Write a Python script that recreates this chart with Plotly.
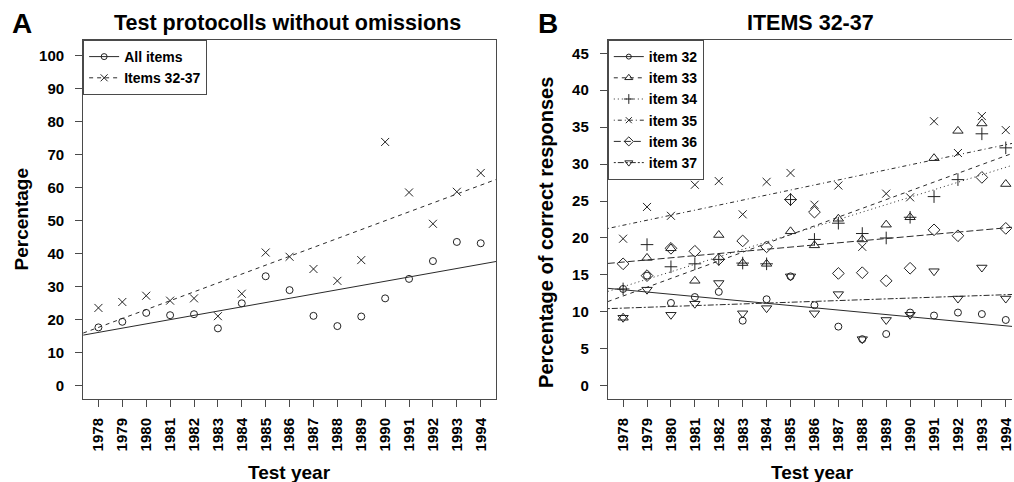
import numpy as np
import plotly.graph_objects as go

# ---------------- data ----------------
years = list(range(1978, 1995))
year_labels = [str(y) for y in years]

# Panel A: percentage of test protocols without omissions
all_items = [17.7, 19.4, 22.1, 21.4, 21.7, 17.4, 25.0, 33.2, 29.0, 21.2, 18.1, 21.0, 26.5, 32.4, 37.8, 43.6, 43.2]
items_32_37 = [23.6, 25.4, 27.3, 25.8, 26.5, 21.1, 27.9, 40.4, 39.1, 35.4, 31.8, 38.1, 73.9, 58.6, 49.1, 58.8, 64.5]

# Panel B: percentage of correct responses, items 32-37
item32 = [13.1, 14.9, 11.2, 12.0, 12.7, 8.8, 11.7, 14.8, 10.9, 8.0, 6.3, 7.0, 9.9, 9.5, 9.9, 9.7, 8.9]
item33 = [9.2, 17.3, 18.6, 14.2, 20.4, 16.6, 16.5, 20.9, 19.0, 22.6, 19.8, 21.8, 22.8, 30.8, 34.5, 35.5, 27.3]
item34 = [13.1, 19.1, 16.1, 16.5, 17.1, 16.6, 16.5, 25.2, 19.8, 22.0, 20.6, 20.0, 22.8, 25.6, 27.9, 34.1, 32.2]
item35 = [19.9, 24.2, 23.0, 27.2, 27.7, 23.2, 27.6, 28.8, 24.5, 27.1, 18.8, 26.0, 25.5, 35.8, 31.5, 36.5, 34.6]
item36 = [16.5, 14.9, 18.6, 18.2, 17.1, 19.6, 18.8, 25.2, 23.5, 15.2, 15.3, 14.2, 15.9, 21.1, 20.3, 28.2, 21.3]
item37 = [9.2, 13.0, 9.6, 11.1, 13.9, 9.8, 10.5, 14.8, 9.8, 12.4, 6.3, 8.9, 9.6, 15.5, 11.8, 16.0, 11.8]

a_ticks = list(range(0, 101, 10))
b_ticks = list(range(0, 46, 5))

# ---------------- styling ----------------
FONT = "Liberation Sans, Arial, sans-serif"
LINE_C = "#2a2a2a"
MK_C = "#222222"
AX_C = "#4a4a4a"
XR_A = [1977.36, 1994.64]
XR_B = [1977.36, 1994.26]
YR_A = [-4.0, 104.8]
YR_B = [-1.8, 46.8]
FIT_X = [1977.36, 1994.64]   # regression lines run across the full plot width


def fit_line(x, y):
    k, b = np.polyfit(np.array(x, float), np.array(y, float), 1)
    xs = np.array(FIT_X)
    return xs, k * xs + b


fig = go.Figure()

series_a = [
    ("All items", all_items, "circle-open", 7, "solid"),
    ("Items 32-37", items_32_37, "x-thin-open", 8, "4px,4px"),
]
for name, vals, sym, sz, dash in series_a:
    fig.add_trace(go.Scatter(x=years, y=vals, mode="markers", xaxis="x", yaxis="y",
                             marker=dict(symbol=sym, size=sz, color=MK_C,
                                         line=dict(color=MK_C, width=1)),
                             showlegend=False, hoverinfo="skip"))
    xs, ys = fit_line(years, vals)
    fig.add_trace(go.Scatter(x=xs, y=ys, mode="lines", xaxis="x", yaxis="y",
                             line=dict(color=LINE_C, width=1, dash=dash),
                             showlegend=False, hoverinfo="skip"))
    fig.add_trace(go.Scatter(x=[None], y=[None], mode="lines+markers", name=name,
                             xaxis="x", yaxis="y", legend="legend",
                             marker=dict(symbol=sym, size=sz - 1, color=MK_C,
                                         line=dict(color=MK_C, width=1)),
                             line=dict(color=LINE_C, width=1, dash=dash)))

series_b = [
    ("item 32", item32, "circle-open", 7, "solid"),
    ("item 33", item33, "triangle-up-open", 9, "4px,4px"),
    ("item 34", item34, "cross-thin-open", 9, "1px,3px"),
    ("item 35", item35, "x-thin-open", 8, "1px,3px,4px,3px"),
    ("item 36", item36, "diamond-open", 9, "7px,3px"),
    ("item 37", item37, "triangle-down-open", 9, "2px,2px,6px,2px"),
]
for name, vals, sym, sz, dash in series_b:
    fig.add_trace(go.Scatter(x=years, y=vals, mode="markers", xaxis="x2", yaxis="y2",
                             marker=dict(symbol=sym, size=sz, color=MK_C,
                                         line=dict(color=MK_C, width=1)),
                             showlegend=False, hoverinfo="skip"))
    xs, ys = fit_line(years, vals)
    fig.add_trace(go.Scatter(x=xs, y=ys, mode="lines", xaxis="x2", yaxis="y2",
                             line=dict(color=LINE_C, width=1, dash=dash),
                             showlegend=False, hoverinfo="skip"))
    fig.add_trace(go.Scatter(x=[None], y=[None], mode="lines+markers", name=name,
                             xaxis="x2", yaxis="y2", legend="legend2",
                             marker=dict(symbol=sym, size=sz - 2, color=MK_C,
                                         line=dict(color=MK_C, width=1)),
                             line=dict(color=LINE_C, width=1, dash=dash)))

W, H = 1014, 482
ML, MR, MT, MB = 0, 0, 40, 83

axis_common = dict(showgrid=False, zeroline=False, showline=True, linecolor=AX_C,
                   linewidth=1, ticks="outside", ticklen=7, tickcolor=AX_C,
                   ticklabeloverflow="allow",
                   tickfont=dict(family=FONT, size=15, color="black", weight="bold"))

legend_font = dict(family=FONT, size=14, color="black", weight="bold")

fig.update_layout(
    width=W, height=H,
    margin=dict(l=ML, r=MR, t=MT, b=MB, pad=0),
    paper_bgcolor="white", plot_bgcolor="white",
    font=dict(family=FONT, color="black"),
    xaxis=dict(domain=[83.3 / W, 497 / W], range=XR_A, tickmode="array",
               tickvals=years, ticktext=year_labels, tickangle=-90, mirror=True,
               ticklabelstandoff=5, anchor="y", **axis_common),
    yaxis=dict(domain=[0, 1], range=YR_A, tickmode="array", tickvals=a_ticks,
               mirror=True, ticklabelstandoff=8, anchor="x", **axis_common),
    xaxis2=dict(domain=[609 / W, 1.0], range=XR_B, tickmode="array",
                tickvals=years, ticktext=year_labels, tickangle=-90, mirror=True,
                ticklabelstandoff=5, anchor="y2", **axis_common),
    yaxis2=dict(domain=[0, 1], range=YR_B, tickmode="array", tickvals=b_ticks,
                mirror=False, ticklabelstandoff=8, anchor="x2", **axis_common),
    legend=dict(x=83.3 / W, y=1, xanchor="left", yanchor="top",
                bordercolor=AX_C, borderwidth=1, bgcolor="white",
                font=legend_font, itemwidth=30, tracegroupgap=0),
    legend2=dict(x=609 / W, y=1, xanchor="left", yanchor="top",
                 bordercolor=AX_C, borderwidth=1, bgcolor="white",
                 font=legend_font, itemwidth=30, tracegroupgap=0),
)

ann = []
def add_text(text, xpx, ypx, size, angle=0):
    ann.append(dict(text=text, x=xpx / W, y=1 - (ypx - MT) / (H - MT - MB),
                    xref="paper", yref="paper", xanchor="center", yanchor="middle",
                    showarrow=False, textangle=angle,
                    font=dict(family=FONT, size=size, color="black")))

add_text("<b>A</b>", 22, 23, 28)
add_text("<b>B</b>", 549, 23, 28)
add_text("<b>Test protocolls without omissions</b>", 288, 23, 21.5)
add_text("<b>ITEMS 32-37</b>", 812, 23, 21.5)
add_text("<b>Test year</b>", 290, 472, 19)
add_text("<b>Test year</b>", 814, 472, 19)
add_text("<b>Percentage</b>", 22, 219.5, 19, -90)
add_text("<b>Percentage of correct responses</b>", 547, 232, 20, -90)
fig.update_layout(annotations=ann)

fig.write_html("out.html")
